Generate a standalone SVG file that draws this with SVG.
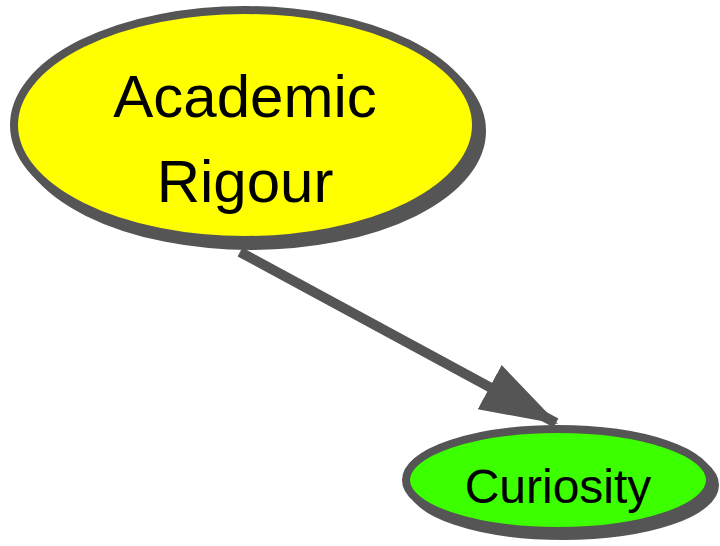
<svg xmlns="http://www.w3.org/2000/svg" width="720" height="546" viewBox="0 0 720 546">
<style>
.shadow{fill:#555555;stroke:#555555;stroke-width:8}
.node{stroke:#555555;stroke-width:8}
.lbl{font-family:"Comic Sans MS","Liberation Sans",sans-serif;fill:#000000;text-anchor:middle}
.edge{stroke:#555555;stroke-width:10;fill:none}
</style>
<defs>
<marker id="arr" markerUnits="userSpaceOnUse" markerWidth="80" markerHeight="60" refX="66" refY="22" orient="auto" viewBox="0 0 70 44">
<path d="M0,0 L68,22 L0,44 Z" fill="#555555"/>
</marker>
</defs>
<g id="connectors">
<path class="edge" d="M240,252 L556,423" marker-end="url(#arr)"/>
</g>
<g id="node-academic">
<ellipse class="shadow" cx="251" cy="131" rx="231" ry="115"/>
<ellipse class="node" cx="245" cy="125" rx="231" ry="115" fill="#ffff00"/>
<text class="lbl" x="245" y="117" font-size="60">Academic</text>
<text class="lbl" x="245" y="202" font-size="60">Rigour</text>
</g>
<g id="node-curiosity">
<ellipse class="shadow" cx="563" cy="485" rx="152" ry="51"/>
<ellipse class="node" cx="558" cy="480" rx="152" ry="51" fill="#3cff00"/>
<text class="lbl" x="558" y="503" font-size="48">Curiosity</text>
</g>
</svg>
